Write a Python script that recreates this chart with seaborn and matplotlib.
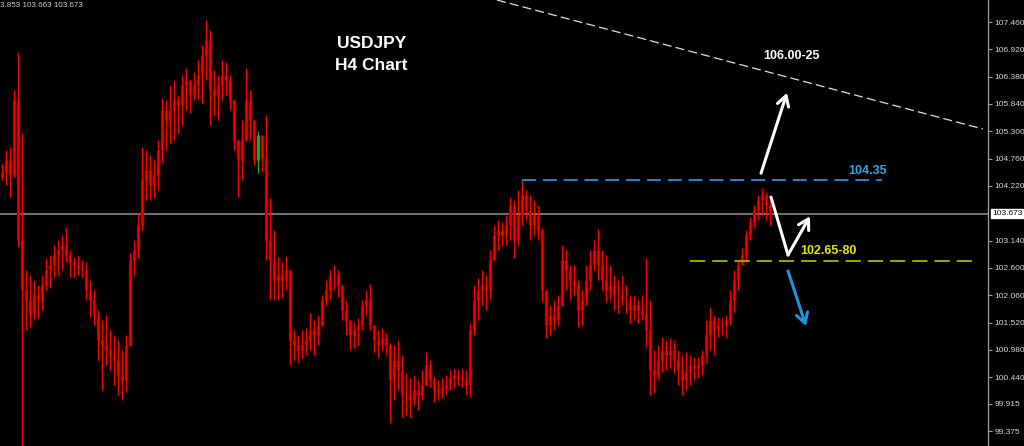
import matplotlib
matplotlib.use("Agg")
import matplotlib.pyplot as plt
import seaborn as sns
import numpy as np

# USDJPY H4 candles, oldest first
highs = [
    104.67, 104.93, 104.99, 106.12, 106.87, 105.27, 102.56, 102.46, 102.36, 102.26,
    102.46, 102.80, 102.85, 103.05, 103.15, 103.25, 103.41, 102.95, 102.81, 102.85,
    102.76, 102.72, 102.36, 102.16, 101.77, 101.57, 101.67, 101.37, 101.27, 101.17,
    100.98, 101.27, 102.89, 103.15, 103.68, 104.99, 104.93, 104.83, 104.73, 105.13,
    105.96, 105.92, 106.21, 106.31, 106.02, 106.41, 106.55, 106.31, 106.47, 106.71,
    107.01, 107.50, 107.30, 106.51, 106.41, 106.71, 106.67, 106.41, 105.92, 105.13,
    105.52, 106.55, 106.12, 105.52, 105.31, 105.23, 105.62, 103.98, 103.35, 102.81,
    102.72, 102.83, 102.56, 101.37, 101.27, 101.37, 101.41, 101.71, 101.57, 101.67,
    102.06, 102.36, 102.56, 102.66, 102.56, 102.26, 101.97, 101.57, 101.53, 101.61,
    101.97, 102.16, 102.28, 101.47, 101.37, 101.41, 101.31, 101.12, 101.08, 101.17,
    100.88, 100.52, 100.42, 100.48, 100.38, 100.58, 100.94, 100.78, 100.44, 100.38,
    100.42, 100.48, 100.58, 100.62, 100.58, 100.62, 100.58, 101.51, 102.26, 102.40,
    102.56, 102.46, 102.95, 103.45, 103.55, 103.51, 103.65, 104.00, 103.94, 104.14,
    104.34, 104.14, 104.04, 103.94, 103.84, 103.39, 102.16, 101.87, 101.97, 102.06,
    103.05, 102.95, 102.66, 102.66, 102.36, 102.16, 102.66, 102.95, 103.15, 103.37,
    102.95, 102.85, 102.66, 102.46, 102.36, 102.46, 102.26, 102.06, 102.06, 101.97,
    102.06, 102.80, 101.97, 100.98, 101.08, 101.23, 101.17, 101.21, 101.17, 100.98,
    100.88, 100.94, 100.88, 100.84, 100.84, 100.98, 101.57, 101.83, 101.67, 101.63,
    101.61, 101.67, 102.16, 102.56, 102.76, 102.99, 103.35, 103.61, 103.84, 104.04,
    104.18, 104.10, 103.94,
]
lows = [
    104.34, 104.24, 104.00, 104.40, 103.01, 99.05, 101.37, 101.43, 101.57, 101.61,
    101.77, 102.16, 102.22, 102.42, 102.46, 102.56, 102.72, 102.42, 102.42, 102.46,
    102.42, 101.97, 101.63, 101.47, 100.78, 100.19, 100.68, 100.58, 100.29, 100.09,
    99.99, 100.15, 101.05, 102.46, 102.80, 103.35, 103.94, 103.94, 103.98, 104.14,
    104.67, 104.93, 105.07, 105.13, 105.27, 105.42, 105.72, 105.66, 105.92, 105.92,
    105.86, 106.31, 105.42, 105.62, 105.52, 105.92, 106.02, 105.72, 104.93, 104.00,
    104.34, 105.10, 105.13, 104.63, 104.48, 104.50, 102.76, 101.97, 101.97, 101.97,
    102.00, 102.16, 100.68, 100.78, 100.72, 100.82, 100.88, 100.98, 100.88, 101.08,
    101.45, 101.87, 101.97, 102.16, 102.02, 101.57, 101.27, 100.98, 101.02, 101.08,
    101.37, 101.67, 101.37, 100.94, 100.84, 100.98, 100.88, 99.53, 99.99, 100.19,
    99.65, 99.69, 99.65, 99.89, 99.79, 99.99, 100.29, 100.25, 99.95, 99.99,
    100.03, 100.09, 100.19, 100.23, 100.29, 100.25, 100.09, 100.05, 101.27, 101.57,
    101.87, 101.77, 101.97, 102.75, 102.95, 103.05, 103.05, 103.15, 102.80, 103.05,
    103.45, 103.55, 103.15, 103.25, 103.15, 101.93, 101.21, 101.27, 101.37, 101.47,
    101.85, 102.16, 101.97, 102.06, 101.43, 101.47, 101.87, 102.16, 102.56, 102.36,
    102.16, 101.93, 101.97, 101.77, 101.71, 101.87, 101.71, 101.51, 101.57, 101.51,
    101.57, 101.04, 100.09, 100.13, 100.38, 100.54, 100.58, 100.62, 100.52, 100.29,
    100.09, 100.19, 100.29, 100.38, 100.42, 100.48, 100.72, 100.98, 100.88, 101.23,
    101.27, 101.23, 101.47, 101.73, 102.16, 102.66, 102.72, 103.15, 103.39, 103.55,
    103.65, 103.55, 103.45,
]
closes = [
    104.50, 104.73, 104.44, 105.92, 103.15, 102.16, 101.97, 101.67, 102.06, 101.97,
    102.26, 102.56, 102.66, 102.85, 102.95, 103.05, 102.85, 102.72, 102.66, 102.60,
    102.56, 102.16, 101.97, 101.67, 101.17, 101.08, 100.98, 100.88, 100.78, 100.48,
    100.38, 101.08, 102.76, 102.95, 103.45, 104.34, 104.54, 104.24, 104.44, 104.93,
    105.72, 105.52, 105.72, 105.92, 105.82, 106.21, 106.31, 106.02, 106.21, 106.41,
    106.81, 107.10, 106.12, 106.02, 106.21, 106.41, 106.31, 105.92, 105.13, 104.73,
    105.13, 105.92, 105.52, 104.73, 105.23, 104.77, 103.15, 102.76, 102.36, 102.46,
    102.36, 102.56, 101.17, 101.08, 100.98, 101.08, 101.17, 101.37, 101.27, 101.47,
    101.97, 102.16, 102.46, 102.46, 102.26, 101.77, 101.57, 101.27, 101.37, 101.47,
    101.87, 101.97, 101.47, 101.17, 101.08, 101.21, 101.08, 100.38, 100.78, 100.58,
    100.09, 100.09, 99.99, 100.19, 100.09, 100.29, 100.68, 100.38, 100.19, 100.15,
    100.23, 100.29, 100.42, 100.48, 100.42, 100.38, 100.29, 101.37, 101.97, 102.16,
    102.26, 102.16, 102.76, 103.25, 103.35, 103.25, 103.45, 103.84, 103.15, 103.65,
    104.04, 103.75, 103.45, 103.65, 103.35, 102.16, 101.47, 101.67, 101.57, 101.87,
    102.76, 102.56, 102.36, 102.26, 101.77, 101.97, 102.36, 102.66, 102.95, 102.66,
    102.36, 102.16, 102.26, 102.06, 102.06, 101.97, 101.97, 101.77, 101.87, 101.77,
    101.67, 101.37, 100.58, 100.48, 100.78, 100.98, 100.88, 100.98, 100.78, 100.58,
    100.38, 100.54, 100.68, 100.62, 100.68, 100.88, 101.27, 101.57, 101.37, 101.47,
    101.47, 101.57, 101.97, 102.36, 102.66, 102.86, 103.25, 103.51, 103.75, 103.94,
    104.04, 103.84, 103.67,
]
first_open = 104.40
green_bars = [64]

price_ticks = [107.460, 106.920, 106.380, 105.840, 105.300, 104.760, 104.220,
               103.140, 102.600, 102.060, 101.520, 100.980, 100.440, 99.915, 99.375]
last_price = 103.673
resistance = 104.34
support = 102.73

sns.set_theme(style="dark", rc={"axes.facecolor": "black", "figure.facecolor": "black",
                                "lines.scale_dashes": False})
plt.rcParams['font.family'] = ['Liberation Sans', 'DejaVu Sans']

fig = plt.figure(figsize=(10.24, 4.46), dpi=100)
ax = fig.add_axes([0, 0, 988 / 1024, 1])
ax.set_facecolor("black")

opens = [first_open] + closes[:-1]
x = np.arange(len(closes))
body_lo = np.minimum(opens, closes)
body_hi = np.maximum(opens, closes)
body_col = ['#1f9a1f' if i in green_bars else '#a80000' for i in x]
wick_col = ['#22b022' if i in green_bars else '#ff0000' for i in x]
# bodies slightly wider than the wicks, so the bars read as a dense band
ax.vlines(x, lows, highs, colors=wick_col, lw=0.9, zorder=3)
ax.vlines(x, body_lo, body_hi, colors=body_col, lw=2.4, zorder=2)

# current price line
ax.axhline(last_price, color='#7a7f86', lw=1.3, zorder=1)

# levels
ax.plot([130, 220], [resistance, resistance], color='#1c8cc8', lw=1.4,
        dashes=(10, 5), zorder=4)
ax.plot([172, 243.5], [support, support], color='#a3a300', lw=1.4,
        dashes=(11, 5), zorder=4)
ax.plot([123.75, 245.25], [107.895, 105.345], color='#e0e0e0', lw=0.9,
        dashes=(6.5, 3), zorder=4)

# arrows
arrow = dict(arrowstyle='->,head_length=0.6,head_width=0.35', lw=2.2, shrinkA=0, shrinkB=0)
ax.annotate('', xy=(196.25, 106.06), xytext=(189.75, 104.47),
            arrowprops=dict(arrow, color='white'), zorder=5)
ax.plot([192.25, 196.5], [104.00, 102.855], color='white', lw=2.2, zorder=5)
ax.annotate('', xy=(202, 103.62), xytext=(196.5, 102.855),
            arrowprops=dict(arrow, color='white'), zorder=5)
ax.annotate('', xy=(201, 101.45), xytext=(196.5, 102.54),
            arrowprops=dict(arrow, color='#1e95db'), zorder=5)

# labels
ax.text(92.5, 107.045, 'USDJPY', color='white', fontsize=12.5, fontweight='bold',
        ha='center', va='center')
ax.text(92.25, 106.61, 'H4 Chart', color='white', fontsize=12.5, fontweight='bold',
        ha='center', va='center')
ax.text(197.5, 106.79, '106.00-25', color='white', fontsize=9, fontweight='bold',
        ha='center', va='center')
ax.text(216.5, 104.515, '104.35', color='#29a8e0', fontsize=9, fontweight='bold',
        ha='center', va='center')
ax.text(206.5, 102.934, '102.65-80', color='#e6e600', fontsize=9, fontweight='bold',
        ha='center', va='center')

ax.set_xlim(-0.5, 246.5)
ax.set_ylim(99.079, 107.895)
ax.set_xticks([])
ax.yaxis.tick_right()
ax.set_yticks(price_ticks)
ax.set_yticklabels([f"{v:.3f}" for v in price_ticks])
ax.tick_params(axis='y', colors='#a0a0a0', labelcolor='#d8d8d8', length=3, width=0.8,
               labelsize=6, pad=1.5, direction='out', right=True, left=False)
ax.grid(False)
for side in ['top', 'left', 'bottom']:
    ax.spines[side].set_visible(False)
ax.spines['right'].set_color('#a0a0a0')
ax.spines['right'].set_linewidth(0.9)

# current price tag on the axis
ax.text(1.004, last_price, f"{last_price:.3f}", transform=ax.get_yaxis_transform(),
        fontsize=6, color='black', ha='left', va='center',
        bbox=dict(boxstyle='square,pad=0.15', fc='white', ec='white'))

fig.text(0.0, 0.995, '3.853 103.663 103.673', color='#d0d0d0', fontsize=5.8,
         ha='left', va='top')

fig.savefig("out.png", dpi=100, facecolor='black')
